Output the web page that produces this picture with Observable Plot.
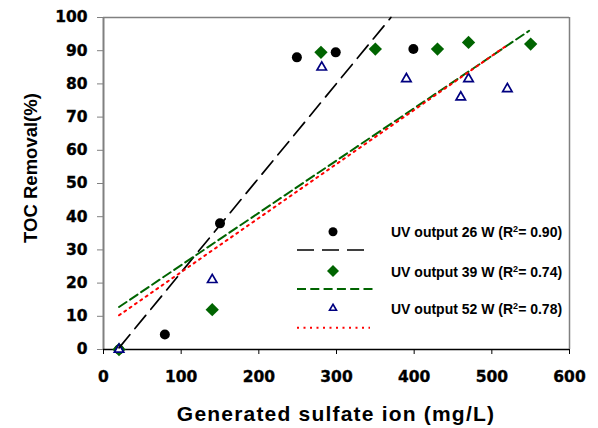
<!DOCTYPE html>
<html><head><meta charset="utf-8">
<script src="https://cdn.jsdelivr.net/npm/d3@7"></script>
<script src="https://cdn.jsdelivr.net/npm/@observablehq/plot@0.6"></script>
<style>body{margin:0;background:#fff}#chart{width:598px;height:428px}
.ticklbl text{font-family:"DejaVu Sans",sans-serif !important;font-weight:700 !important;font-size:15.5px !important;fill:#000 !important;stroke:#000;stroke-width:0.35px}
</style>
</head><body><div id="chart"></div>
<script>
// measured data (generated sulfate ion mg/L vs TOC removal %)
const x26 = [20, 79, 150, 249, 299, 399];
const y26 = [0, 4.5, 38, 88, 89.5, 90.5];
const x39 = [20, 140, 280, 350, 430, 470, 550];
const y39 = [0, 12, 89.5, 90.5, 90.5, 92.5, 92];
const x52 = [20, 140, 281, 390, 460, 470, 520];
const y52 = [0, 21, 85, 81.5, 76, 81.5, 78.5];
// trend line end points
const fit26X = [20, 370], fit26Y = [0.5, 100];
const fit39X = [20, 548], fit39Y = [12.8, 96];
const fit52X = [20, 520], fit52Y = [10.3, 91.7];
const xTicks = [0, 100, 200, 300, 400, 500, 600];
const yTicks = [0, 10, 20, 30, 40, 50, 60, 70, 80, 90, 100];
const xTitle = "Generated sulfate ion (mg/L)";
const yTitle = "TOC Removal(%)";
const seriesNames = ["UV output 26 W", "UV output 39 W", "UV output 52 W"];
const r2Values = ["0.90", "0.74", "0.78"];

const pts = (xs, ys) => xs.map((x, i) => ({x, y: ys[i]}));
const GREEN = "#006400", NAVY = "#000080", RED = "#ff0000", GREY = "#808080";

const plot = Plot.plot({
  width: 598, height: 428,
  marginLeft: 103, marginRight: 29, marginTop: 17, marginBottom: 79,
  x: {domain: [0, 600]},
  y: {domain: [0, 100]},
  style: {fontFamily: "Liberation Sans, Arial, sans-serif", background: "#fff", color: "#000"},
  marks: [
    Plot.ruleY([100], {stroke: GREY, strokeWidth: 1.5}),
    Plot.ruleX([600], {stroke: GREY, strokeWidth: 1.5}),
    Plot.axisY({ticks: yTicks, tickSize: 6, tickPadding: 10, label: null, stroke: GREY,
      fontFamily: "DejaVu Sans", fontWeight: "bold", fontSize: 15.5}),
    Plot.axisX({ticks: xTicks, tickSize: 5, tickPadding: 16, label: null,
      fontFamily: "DejaVu Sans", fontWeight: "bold", fontSize: 15.5}),
    Plot.ruleX([0], {stroke: GREY, strokeWidth: 2}),
    Plot.ruleY([0], {stroke: "#000", strokeWidth: 1.5}),
    Plot.dot(pts(x26, y26), {x: "x", y: "y", r: 5, fill: "#000", symbol: "circle"}),
    Plot.dot(pts(x39, y39), {x: "x", y: "y", r: 6, fill: GREEN, symbol: "diamond2"}),
    Plot.dot(pts(x52, y52), {x: "x", y: "y", r: 3.5, fill: "#fff", stroke: NAVY, strokeWidth: 1.7, symbol: "triangle"}),
    Plot.line(pts(fit26X, fit26Y), {x: "x", y: "y", stroke: "#000", strokeWidth: 1.7, strokeDasharray: "17,8"}),
    Plot.line(pts(fit39X, fit39Y), {x: "x", y: "y", stroke: GREEN, strokeWidth: 2, strokeDasharray: "9,4.3"}),
    Plot.line(pts(fit52X, fit52Y), {x: "x", y: "y", stroke: RED, strokeWidth: 2, strokeDasharray: "2,4.5"})
  ]
});
document.getElementById("chart").appendChild(plot);

const svg = d3.select(plot);
svg.selectAll('[aria-label="y-axis tick label"], [aria-label="x-axis tick label"]').classed("ticklbl", true);
svg.selectAll('[aria-label="x-axis tick"]').attr("stroke", "#000");

// axis titles (layout text)
const titles = svg.append("g").style("font-family", "Liberation Sans, Arial, sans-serif").style("font-weight", "bold").style("fill", "#000");
titles.append("text").attr("x", 336).attr("y", 421).attr("text-anchor", "middle")
  .style("font-size", "21px").style("letter-spacing", "1.2px").text(xTitle);
titles.append("text").attr("transform", "translate(37,168) rotate(-90)").attr("text-anchor", "middle")
  .style("font-size", "18.5px").text(yTitle);

// legend (layout only)
const legend = svg.append("g").style("font-family", "Liberation Sans, Arial, sans-serif").style("font-weight", "bold").style("font-size", "14px");
const rowY = [231.7, 271, 308.3];
const lineY = [250, 289, 327.7];
const lineEnd = [364, 373, 370];
const lineStyles = [["#000", 1.7, "17,8"], [GREEN, 2, "9,4.3"], [RED, 2, "2,4.5"]];
const sym = [
  d3.symbol(d3.symbolCircle, Math.PI * 4.5 * 4.5)(),
  d3.symbol(d3.symbolDiamond2, Math.PI * 5.4 * 5.4)(),
  d3.symbol(d3.symbolTriangle, Math.PI * 2.6 * 2.6)()
];
const symStyle = [["#000", "none", 0], [GREEN, "none", 0], ["#fff", NAVY, 1.6]];
seriesNames.forEach((name, i) => {
  legend.append("path").attr("d", sym[i]).attr("transform", `translate(333,${rowY[i]})`)
    .attr("fill", symStyle[i][0]).attr("stroke", symStyle[i][1]).attr("stroke-width", symStyle[i][2]);
  legend.append("line").attr("x1", 297).attr("x2", lineEnd[i]).attr("y1", lineY[i]).attr("y2", lineY[i])
    .attr("stroke", lineStyles[i][0]).attr("stroke-width", lineStyles[i][1]).attr("stroke-dasharray", lineStyles[i][2]);
  const t = legend.append("text").attr("x", 391).attr("y", rowY[i] + 5.5).attr("text-anchor", "start").style("fill", "#000");
  t.append("tspan").text(name + " (R");
  t.append("tspan").style("font-size", "9px").attr("dy", -5).text("2");
  t.append("tspan").attr("dy", 5).text("= " + r2Values[i] + ")");
});
</script></body></html>
